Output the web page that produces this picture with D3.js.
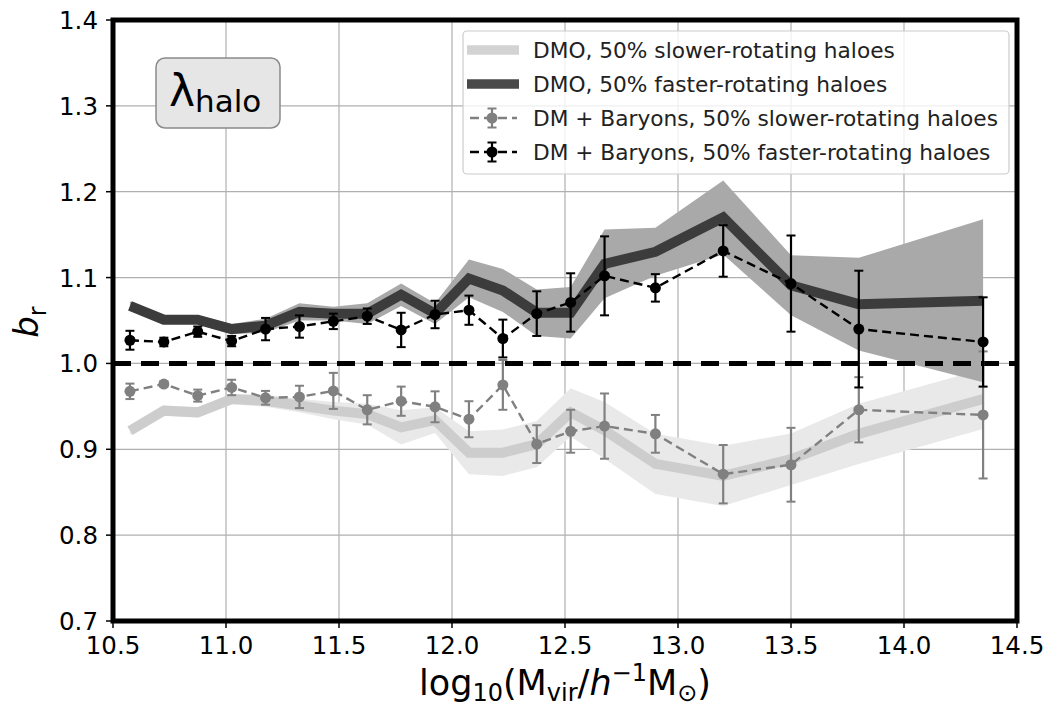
<!DOCTYPE html>
<html>
<head>
<meta charset="utf-8">
<script src="https://cdn.jsdelivr.net/npm/d3@7"></script>
<style>
  body { margin: 0; background: #fff; }
  svg { font-family: "DejaVu Sans", sans-serif; }
</style>
</head>
<body>
<svg id="chart" width="1052" height="709"></svg>
<script>
// mass bins (log10 Mvir)
let massBins = [10.575, 10.725, 10.875, 11.025, 11.175, 11.325, 11.475, 11.625, 11.775, 11.925,
  12.075, 12.225, 12.375, 12.525, 12.675, 12.9, 13.2, 13.5, 13.8, 14.35];

// DMO, slower-rotating: line and band half-width
let dmoSlow = [0.9215, 0.945, 0.943, 0.9585, 0.9565, 0.951, 0.945, 0.941, 0.9255, 0.934,
  0.896, 0.896, 0.906, 0.943, 0.922, 0.883, 0.869, 0.8885, 0.918, 0.9585];
let dmoSlowErr = [0.005, 0.006, 0.006, 0.006, 0.007, 0.008, 0.010, 0.012, 0.020, 0.015,
  0.025, 0.027, 0.027, 0.028, 0.033, 0.035, 0.035, 0.030, 0.035, 0.035];

// DMO, faster-rotating
let dmoFast = [1.067, 1.051, 1.051, 1.040, 1.044, 1.060, 1.058, 1.058, 1.080, 1.058,
  1.099, 1.085, 1.059, 1.059, 1.116, 1.130, 1.170, 1.091, 1.069, 1.073];
let dmoFastErr = [0.005, 0.005, 0.005, 0.006, 0.008, 0.010, 0.008, 0.012, 0.013, 0.012,
  0.022, 0.025, 0.027, 0.030, 0.040, 0.028, 0.043, 0.035, 0.054, 0.095];

// DM + baryons, slower-rotating
let hydroSlow = [0.9675, 0.976, 0.9625, 0.972, 0.960, 0.961, 0.968, 0.946, 0.956, 0.9495,
  0.935, 0.975, 0.906, 0.921, 0.927, 0.918, 0.871, 0.882, 0.946, 0.940];
let hydroSlowErr = [0.009, 0.003, 0.007, 0.009, 0.008, 0.013, 0.021, 0.017, 0.017, 0.018,
  0.021, 0.029, 0.022, 0.025, 0.038, 0.022, 0.034, 0.043, 0.038, 0.074];

// DM + baryons, faster-rotating
let hydroFast = [1.027, 1.025, 1.037, 1.026, 1.040, 1.043, 1.049, 1.055, 1.039, 1.057,
  1.062, 1.029, 1.058, 1.071, 1.102, 1.088, 1.131, 1.093, 1.040, 1.025];
let hydroFastErr = [0.011, 0.005, 0.006, 0.006, 0.013, 0.013, 0.009, 0.009, 0.020, 0.016,
  0.017, 0.022, 0.026, 0.034, 0.046, 0.016, 0.030, 0.056, 0.068, 0.052];

let xTicks = [10.5, 11.0, 11.5, 12.0, 12.5, 13.0, 13.5, 14.0, 14.5];
let yTicks = [0.7, 0.8, 0.9, 1.0, 1.1, 1.2, 1.3, 1.4];

let legendLabels = [
  'DMO, 50% slower-rotating haloes',
  'DMO, 50% faster-rotating haloes',
  'DM + Baryons, 50% slower-rotating haloes',
  'DM + Baryons, 50% faster-rotating haloes'
];

let svg = d3.select('#chart');
let plotLeft = 113, plotRight = 1017, plotTop = 20, plotBottom = 621;

let x = d3.scaleLinear().domain([10.5, 14.5]).range([plotLeft, plotRight]);
let y = d3.scaleLinear().domain([0.7, 1.4]).range([plotBottom, plotTop]);

// grid
let grid = svg.append('g').attr('class', 'grid');
grid.selectAll('.gx')
  .data(xTicks)
  .enter()
  .append('line')
    .attr('x1', d => x(d)).attr('x2', d => x(d))
    .attr('y1', plotTop).attr('y2', plotBottom)
    .style('stroke', '#b0b0b0')
    .style('stroke-width', 1.2);
grid.selectAll('.gy')
  .data(yTicks)
  .enter()
  .append('line')
    .attr('x1', plotLeft).attr('x2', plotRight)
    .attr('y1', d => y(d)).attr('y2', d => y(d))
    .style('stroke', '#b0b0b0')
    .style('stroke-width', 1.2);

let idx = d3.range(massBins.length);

function band(vals, errs) {
  return d3.area()
    .x(i => x(massBins[i]))
    .y0(i => y(vals[i] - errs[i]))
    .y1(i => y(vals[i] + errs[i]))(idx);
}

function line(vals) {
  return d3.line()
    .x(i => x(massBins[i]))
    .y(i => y(vals[i]))(idx);
}

// DMO bands and lines
svg.append('path').attr('d', band(dmoSlow, dmoSlowErr)).style('fill', '#e9e9e9');
svg.append('path').attr('d', band(dmoFast, dmoFastErr)).style('fill', '#a9a9a9');
svg.append('path').attr('d', line(dmoSlow))
  .style('fill', 'none').style('stroke', '#cdcdcd').style('stroke-width', 10);
svg.append('path').attr('d', line(dmoFast))
  .style('fill', 'none').style('stroke', '#3c3c3c').style('stroke-width', 10);

// reference line at b_r = 1
svg.append('line')
  .attr('x1', plotLeft).attr('x2', plotRight)
  .attr('y1', y(1)).attr('y2', y(1))
  .style('stroke', 'black')
  .style('stroke-width', 5)
  .style('stroke-dasharray', '18,10');

// error bar series
function errorSeries(vals, errs, color) {
  let g = svg.append('g');
  g.append('path').attr('d', line(vals))
    .style('fill', 'none')
    .style('stroke', color)
    .style('stroke-width', 2.4)
    .style('stroke-dasharray', '9,5');
  let bars = g.selectAll('.bar')
    .data(idx)
    .enter()
    .append('g');
  bars.append('line')
    .attr('x1', i => x(massBins[i])).attr('x2', i => x(massBins[i]))
    .attr('y1', i => y(vals[i] - errs[i])).attr('y2', i => y(vals[i] + errs[i]))
    .style('stroke', color).style('stroke-width', 2.2);
  [-1, 1].forEach(s => {
    bars.append('line')
      .attr('x1', i => x(massBins[i]) - 4.5).attr('x2', i => x(massBins[i]) + 4.5)
      .attr('y1', i => y(vals[i] + s * errs[i])).attr('y2', i => y(vals[i] + s * errs[i]))
      .style('stroke', color).style('stroke-width', 2);
  });
  bars.append('circle')
    .attr('cx', i => x(massBins[i]))
    .attr('cy', i => y(vals[i]))
    .attr('r', 5.5)
    .style('fill', color);
}

errorSeries(hydroSlow, hydroSlowErr, '#808080');
errorSeries(hydroFast, hydroFastErr, '#000000');

// ticks and tick labels
svg.selectAll('.xt')
  .data(xTicks)
  .enter()
  .append('line')
    .attr('x1', d => x(d)).attr('x2', d => x(d))
    .attr('y1', plotBottom).attr('y2', plotBottom + 7)
    .style('stroke', 'black').style('stroke-width', 1.5);
svg.selectAll('.xl')
  .data(xTicks)
  .enter()
  .append('text')
    .attr('x', d => x(d))
    .attr('y', 654)
    .attr('text-anchor', 'middle')
    .style('font-size', '24.5px')
    .text(d => d.toFixed(1));
svg.selectAll('.yt')
  .data(yTicks)
  .enter()
  .append('line')
    .attr('x1', plotLeft - 7).attr('x2', plotLeft)
    .attr('y1', d => y(d)).attr('y2', d => y(d))
    .style('stroke', 'black').style('stroke-width', 1.5);
svg.selectAll('.yl')
  .data(yTicks)
  .enter()
  .append('text')
    .attr('x', 98)
    .attr('y', d => y(d) + 9)
    .attr('text-anchor', 'end')
    .style('font-size', '24.5px')
    .text(d => d.toFixed(1));

// frame
svg.append('rect')
  .attr('x', plotLeft).attr('y', plotTop)
  .attr('width', plotRight - plotLeft).attr('height', plotBottom - plotTop)
  .style('fill', 'none')
  .style('stroke', 'black')
  .style('stroke-width', 5);

// axis labels
let xl = svg.append('text')
  .attr('x', 565).attr('y', 695)
  .attr('text-anchor', 'middle')
  .style('font-size', '35px');
xl.append('tspan').text('log');
xl.append('tspan').attr('dy', 6).style('font-size', '24px').text('10');
xl.append('tspan').attr('dy', -6).text('(M');
xl.append('tspan').attr('dy', 6).style('font-size', '24px').text('vir');
xl.append('tspan').attr('dy', -6).text('/');
xl.append('tspan').style('font-style', 'italic').text('h');
xl.append('tspan').attr('dy', -14).style('font-size', '24px').text('\u22121');
xl.append('tspan').attr('dy', 14).text('M');
xl.append('tspan').attr('dy', 6).style('font-size', '24px').text('\u2299');
xl.append('tspan').attr('dy', -6).text(')');

let yl = svg.append('text')
  .attr('transform', 'translate(38,322) rotate(-90)')
  .attr('text-anchor', 'middle')
  .style('font-size', '34px');
yl.append('tspan').style('font-style', 'italic').text('b');
yl.append('tspan').attr('dy', 8).style('font-size', '24px').text('r');

// lambda label box
svg.append('rect')
  .attr('x', 156).attr('y', 58)
  .attr('width', 124).attr('height', 70)
  .attr('rx', 9)
  .style('fill', '#e6e6e6')
  .style('stroke', '#8a8a8a')
  .style('stroke-width', 1.5);
let lam = svg.append('text').attr('x', 169).attr('y', 106);
lam.append('tspan').style('font-size', '44px').text('\u03bb');
lam.append('tspan').attr('dy', 6).style('font-size', '31px').text('halo');

// legend
let legend = svg.append('g');
legend.append('rect')
  .attr('x', 463).attr('y', 31)
  .attr('width', 546).attr('height', 143)
  .attr('rx', 4)
  .style('fill', 'rgba(255,255,255,0.8)')
  .style('stroke', '#cccccc')
  .style('stroke-width', 1.2);

let rowY = [50, 84, 118, 152];
legend.append('line')
  .attr('x1', 467).attr('x2', 519).attr('y1', rowY[0]).attr('y2', rowY[0])
  .style('stroke', '#d3d3d3').style('stroke-width', 9.5);
legend.append('line')
  .attr('x1', 467).attr('x2', 519).attr('y1', rowY[1]).attr('y2', rowY[1])
  .style('stroke', '#4a4a4a').style('stroke-width', 9.5);
[['#808080', rowY[2]], ['#000000', rowY[3]]].forEach(([c, yy]) => {
  legend.append('line')
    .attr('x1', 470).attr('x2', 517).attr('y1', yy).attr('y2', yy)
    .style('stroke', c).style('stroke-width', 2.4).style('stroke-dasharray', '9,5');
  legend.append('line')
    .attr('x1', 492).attr('x2', 492).attr('y1', yy - 9.5).attr('y2', yy + 9.5)
    .style('stroke', c).style('stroke-width', 2.2);
  [-9.5, 9.5].forEach(o => {
    legend.append('line')
      .attr('x1', 487.5).attr('x2', 496.5).attr('y1', yy + o).attr('y2', yy + o)
      .style('stroke', c).style('stroke-width', 2);
  });
  legend.append('circle').attr('cx', 492).attr('cy', yy).attr('r', 5.5).style('fill', c);
});

legend.selectAll('.lt')
  .data(legendLabels)
  .enter()
  .append('text')
    .attr('x', 533)
    .attr('y', (d, i) => rowY[i] + 7.5)
    .style('font-size', '21.7px')
    .style('fill', '#222')
    .text(d => d);
</script>
</body>
</html>
